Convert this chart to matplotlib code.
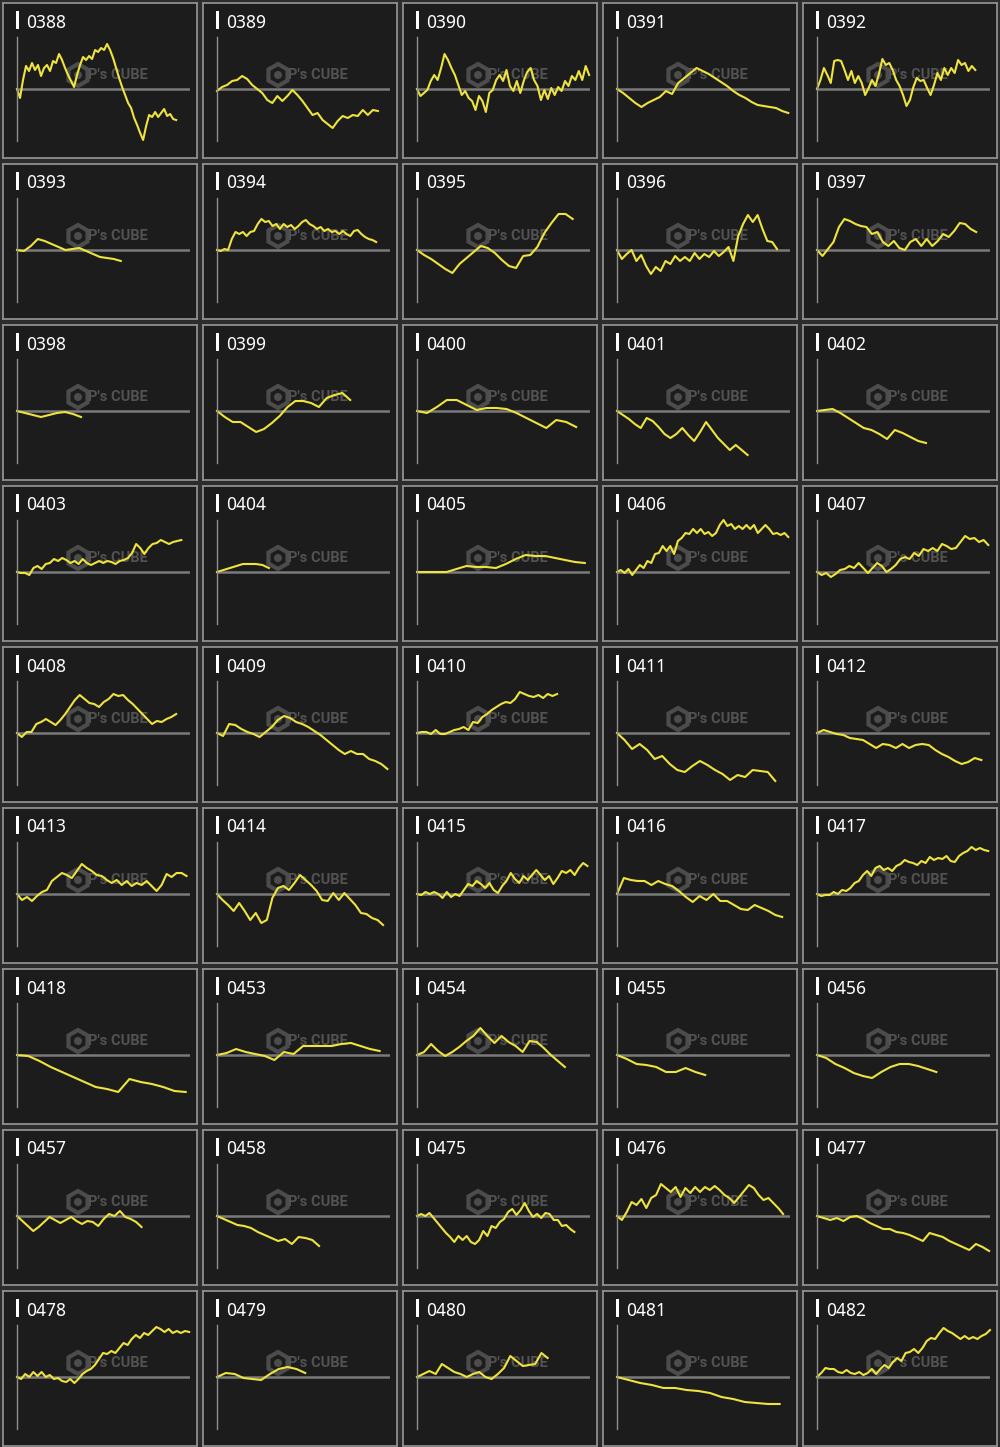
import numpy as np
import matplotlib.pyplot as plt
from matplotlib.patches import Rectangle, RegularPolygon, Circle
from matplotlib.transforms import Affine2D

W, H = 1000, 1447
COLS = 5
CELL_W, CELL_H = 200, 161
GAME_MAX = 8000
Y_LIM = 52

# -----------------------------
# data: machine number, balance curve (sampled evenly), games played
# -----------------------------
ids = ['0388', '0389', '0390', '0391', '0392',
       '0393', '0394', '0395', '0396', '0397',
       '0398', '0399', '0400', '0401', '0402',
       '0403', '0404', '0405', '0406', '0407',
       '0408', '0409', '0410', '0411', '0412',
       '0413', '0414', '0415', '0416', '0417',
       '0418', '0453', '0454', '0455', '0456',
       '0457', '0458', '0475', '0476', '0477',
       '0478', '0479', '0480', '0481', '0482']

s0388 = [0, -9, 9, 23, 18, 26, 19, 24, 13, 21, 24, 18, 28, 26, 35, 29, 21, 14, 8, 2, 14, 24, 32, 29, 33, 30,
         39, 37, 41, 39, 45, 39, 31, 21, 11, 2, -6, -14, -19, -29, -36, -44, -51, -37, -26, -28, -23, -28,
         -24, -20, -27, -25, -30, -31]
s0389 = [-2, 2, 4, 8, 9, 13, 10, 4, 0, -4, -11, -14, -7, -12, -7, -1, -6, -12, -19, -26, -24, -31, -35, -39,
         -32, -27, -29, -26, -27, -21, -26, -21, -22]
s0390 = [0, -7, -4, -1, 8, 14, 9, 21, 35, 29, 21, 14, 4, -6, -2, -9, -12, -21, -7, -12, -23, -4, -1, 9, 14, 8,
         19, 3, -2, 8, -4, 8, 17, 21, 9, 3, -11, -1, -10, 1, -6, 2, -2, 8, 3, 13, 9, 18, 9, 23, 14]
s0391 = [0, -4, -9, -14, -18, -14, -11, -8, -2, -5, 6, 11, 16, 21, 18, 15, 11, 7, 3, -2, -6, -9, -13, -16,
         -17, -18, -19, -22, -24]
s0392 = [0, 9, 21, 14, 6, 28, 29, 28, 19, 9, 18, 6, 13, 6, -6, 1, 9, 3, 15, 30, 24, 26, 19, 9, 3, -6, -17,
         -11, 2, 11, 8, 9, 1, -6, 4, 16, 9, 21, 14, 21, 16, 29, 24, 26, 18, 23, 19]
s0393 = [0, -1, 4, 11, 9, 6, 3, 0, 1, 2, -1, -4, -7, -8, -9, -11]
s0394 = [0, -1, 1, 0, 11, 18, 16, 18, 14, 18, 19, 26, 31, 28, 29, 24, 26, 21, 26, 23, 25, 21, 24, 28, 30, 26,
         24, 21, 23, 19, 21, 18, 19, 16, 19, 16, 14, 19, 20, 16, 13, 11, 10, 8]
s0395 = [0, -5, -9, -14, -19, -23, -14, -8, -2, 4, 2, -3, -10, -16, -18, -6, -5, 3, 17, 27, 36, 36, 31]
s0396 = [0, -9, -4, 0, -11, -5, -16, -24, -17, -21, -11, -14, -6, -11, -7, -11, -3, -9, -4, -7, -1, -6, -2, 3,
         -11, 14, 26, 35, 28, 35, 21, 9, 8, 1]
s0397 = [0, -6, 1, 8, 23, 31, 29, 26, 24, 23, 16, 18, 8, 4, 9, 2, 0, 8, 11, 4, 11, 4, 9, 16, 13, 19, 27, 26,
         21, 18]
s0398 = [0, -2, -4, -6, -4, -2, -1, -3, -6]
s0399 = [0, -6, -11, -11, -16, -21, -18, -12, -5, 4, 10, 10, 8, 4, 13, 16, 18, 11]
s0400 = [0, -2, 4, 11, 11, 6, 1, 3, 3, 2, -2, -7, -12, -17, -9, -11, -16]
s0401 = [0, -4, -8, -13, -17, -7, -10, -16, -23, -27, -23, -17, -24, -30, -21, -11, -19, -27, -33, -39, -34,
         -39, -44]
s0402 = [0, 1, 2, -2, -7, -12, -17, -19, -23, -28, -19, -22, -26, -30, -32]
s0403 = [0, -1, -1, -3, 4, 6, 3, 8, 9, 13, 11, 14, 12, 9, 11, 8, 13, 9, 7, 9, 11, 9, 11, 10, 8, 11, 12, 14,
         19, 28, 24, 18, 24, 28, 29, 32, 30, 28, 30, 31, 32]
s0404 = [0, 2, 4, 6, 8, 8, 8, 7, 4]
s0405 = [0, 0, 0, 0, 3, 6, 5, 5, 4, 8, 13, 17, 16, 16, 14, 12, 10, 9]
s0406 = [0, 2, -1, 3, -3, 2, 7, 4, 11, 9, 18, 19, 26, 21, 26, 18, 31, 34, 39, 38, 43, 39, 43, 38, 40, 36, 39,
         47, 52, 46, 48, 43, 46, 43, 47, 43, 47, 39, 43, 47, 43, 38, 39, 37, 39, 35]
s0407 = [0, -3, -1, -5, -2, 2, 3, 6, 4, 9, 4, -1, 4, 9, 6, 0, 3, 7, 13, 15, 13, 19, 16, 23, 21, 24, 21, 28,
         26, 23, 24, 30, 36, 33, 34, 30, 32, 27]
s0408 = [0, -4, 1, 1, 9, 11, 14, 11, 8, 13, 19, 26, 33, 38, 34, 30, 29, 26, 31, 34, 39, 37, 38, 33, 29, 24,
         19, 14, 9, 12, 11, 14, 16, 19]
s0409 = [0, -3, 9, 8, 4, 1, -1, -4, 1, 6, 13, 17, 15, 11, 9, 6, 2, -2, -7, -12, -17, -21, -18, -21, -21, -26,
         -28, -31, -36]
s0410 = [0, 1, 1, -1, 3, -1, -1, 1, 3, 4, 6, 3, 11, 10, 16, 19, 23, 26, 29, 31, 30, 34, 41, 39, 37, 36, 38,
         35, 39, 37, 39]
s0411 = [0, -7, -16, -11, -17, -26, -23, -31, -37, -39, -33, -28, -32, -37, -41, -47, -42, -44, -37, -38,
         -39, -48]
s0412 = [0, 3, 1, -1, -2, -5, -6, -7, -11, -15, -11, -12, -15, -11, -15, -12, -11, -12, -17, -21, -24, -28,
         -31, -29, -25, -27]
s0413 = [0, -6, -3, -7, -2, 2, 4, 13, 17, 21, 19, 16, 23, 30, 26, 23, 19, 18, 14, 11, 14, 9, 13, 8, 11, 9,
         13, 8, 3, 9, 20, 17, 21, 21, 18]
s0414 = [0, -6, -11, -17, -9, -17, -26, -19, -29, -26, -4, 6, 8, 4, 11, 19, 14, 9, 3, -6, -7, 1, -6, 1, -5,
         -11, -19, -20, -24, -26, -31]
s0415 = [0, -1, 2, 0, 2, 0, -4, 2, -3, 0, -2, 4, 10, 8, 13, 10, 6, 11, 4, 1, 8, 13, 21, 15, 11, 18, 14, 19,
         24, 19, 14, 18, 10, 16, 23, 21, 24, 19, 26, 31, 28]
s0416 = [0, 16, 14, 13, 13, 9, 13, 10, 8, 3, -3, -8, -2, -6, 0, -7, -7, -11, -15, -16, -11, -14, -17, -21, -23]
s0417 = [0, -2, -1, -1, 2, 0, 4, 3, 6, 11, 13, 19, 23, 18, 26, 28, 24, 26, 23, 28, 30, 34, 32, 31, 29, 33,
         31, 37, 34, 36, 35, 38, 33, 32, 38, 41, 43, 47, 44, 46, 44, 43]
s0418 = [0, -1, -6, -12, -17, -22, -27, -32, -34, -37, -24, -27, -29, -32, -36, -37]
s0453 = [0, 2, 6, 3, 1, -1, -5, 3, 1, 9, 9, 9, 9, 11, 12, 9, 6, 4]
s0454 = [0, 3, 11, 4, -1, 3, 8, 14, 19, 27, 19, 12, 19, 13, 9, 3, 14, 13, 7, 0, -6, -12]
s0455 = [0, -4, -9, -10, -12, -17, -17, -13, -17, -20]
s0456 = [0, -3, -9, -13, -18, -21, -23, -17, -12, -9, -9, -11, -14, -17]
s0457 = [0, -5, -10, -15, -11, -6, -1, -4, -7, -4, -1, -5, -8, -5, -6, -10, -3, 2, 0, 5, -1, -3, -6, -11]
s0458 = [0, -3, -6, -9, -10, -12, -16, -19, -22, -25, -23, -28, -21, -22, -24, -30]
s0475 = [0, 2, 0, 3, -2, -7, -12, -17, -21, -26, -20, -24, -20, -26, -28, -24, -15, -20, -10, -12, -6, -3, 4,
         7, 1, 6, 13, 5, -1, 2, -2, 3, 2, -4, -4, -10, -9, -13, -16]
s0476 = [0, -4, 4, 14, 11, 17, 8, 18, 21, 32, 28, 24, 29, 19, 28, 23, 29, 24, 29, 26, 30, 26, 21, 18, 13, 19,
         25, 31, 28, 21, 16, 18, 13, 8, 2]
s0477 = [0, -2, -4, -2, -5, -1, 0, -3, -7, -10, -13, -13, -16, -17, -19, -22, -25, -17, -19, -21, -25, -28,
         -31, -34, -28, -31, -35]
s0478 = [0, -2, 3, 0, 5, 1, 5, 0, 2, -2, -1, -4, -5, -2, -6, -2, 3, 6, 8, 12, 18, 24, 23, 26, 24, 29, 34, 32,
         38, 42, 39, 44, 42, 46, 50, 48, 45, 48, 44, 46, 44, 46, 45]
s0479 = [0, 4, 3, -1, -2, -3, 3, 8, 10, 8, 4]
s0480 = [0, 3, 6, 3, 13, 9, 5, 3, 0, 3, 5, 0, -2, 3, 9, 21, 16, 11, 12, 13, 24, 19]
s0481 = [0, -3, -6, -8, -11, -11, -13, -14, -16, -20, -22, -25, -26, -27, -27]
s0482 = [0, 4, 9, 8, 8, 5, 4, 7, 4, 3, 5, 2, 4, 8, 3, 8, 12, 9, 15, 19, 16, 24, 25, 28, 24, 29, 36, 39, 38,
         44, 49, 46, 44, 41, 38, 41, 38, 40, 38, 41, 43, 47]

curves = [s0388, s0389, s0390, s0391, s0392,
          s0393, s0394, s0395, s0396, s0397,
          s0398, s0399, s0400, s0401, s0402,
          s0403, s0404, s0405, s0406, s0407,
          s0408, s0409, s0410, s0411, s0412,
          s0413, s0414, s0415, s0416, s0417,
          s0418, s0453, s0454, s0455, s0456,
          s0457, s0458, s0475, s0476, s0477,
          s0478, s0479, s0480, s0481, s0482]

games = [7360, 7440, 7960, 7920, 7320,
         4800, 7360, 7200, 7400, 7360,
         2960, 6160, 7360, 6040, 5040,
         7600, 2400, 7760, 7920, 7920,
         7360, 7880, 6480, 7320, 7600,
         7840, 7680, 7880, 7640, 7920,
         7800, 7520, 6840, 4080, 5520,
         5760, 4720, 7280, 7680, 7960,
         7960, 4080, 6040, 7520, 8000]

# -----------------------------
# figure, pixel transform (top-left origin) for decorations
# -----------------------------
fig = plt.figure(figsize=(W / 100, H / 100), dpi=100, facecolor='#2c2c2c')
px = Affine2D().scale(0.01, -0.01).translate(0, H / 100) + fig.dpi_scale_trans

for i, (name, vals, end) in enumerate(zip(ids, curves, games)):
    r, c = divmod(i, COLS)
    x0, y0 = c * CELL_W, r * CELL_H

    # panel frame
    pan = fig.add_axes([(x0 + 3) / W, 1 - (y0 + 158) / H, 194 / W, 155 / H])
    pan.set_facecolor('#1c1c1c')
    pan.set_xticks([])
    pan.set_yticks([])
    for sp in pan.spines.values():
        sp.set_color('#8f8f8f')
        sp.set_linewidth(1.3)

    # title bar + number
    pan.add_patch(Rectangle((x0 + 16, y0 + 11), 3, 18, transform=px,
                            facecolor='white', edgecolor='none', clip_on=False))
    pan.text(x0 + 26, y0 + 27.5, name, transform=px, color='white', fontsize=12.5,
             family='Noto Sans', va='baseline', ha='left')

    # watermark
    pan.add_patch(RegularPolygon((x0 + 78, y0 + 75), 6, radius=11, transform=px,
                                 facecolor='none', edgecolor='#4c4c4c', lw=3, clip_on=False))
    pan.add_patch(Circle((x0 + 78, y0 + 75), 4, transform=px,
                         facecolor='#4c4c4c', edgecolor='none', clip_on=False))
    pan.text(x0 + 88, y0 + 75, "P's CUBE", transform=px, color='#525252', fontsize=10.5,
             family='Roboto', weight='bold', va='center', ha='left')

    # plot area
    ax = fig.add_axes([(x0 + 17) / W, 1 - (y0 + 141) / H, 173 / W, 104 / H])
    ax.patch.set_alpha(0)
    ax.set_xlim(0, GAME_MAX)
    ax.set_ylim(-Y_LIM, Y_LIM)
    for s in ['top', 'right', 'bottom']:
        ax.spines[s].set_visible(False)
    ax.spines['left'].set_color('#8e8e8e')
    ax.spines['left'].set_linewidth(1.0)
    ax.set_xticks([])
    ax.set_yticks([])
    ax.axhline(0, color='#7a7a7a', lw=1.8)
    x = np.linspace(0, end, len(vals))
    ax.plot(x, vals, color='#efe33e', lw=1.5, clip_on=False)

fig.savefig('out.png', dpi=100, facecolor=fig.get_facecolor())
